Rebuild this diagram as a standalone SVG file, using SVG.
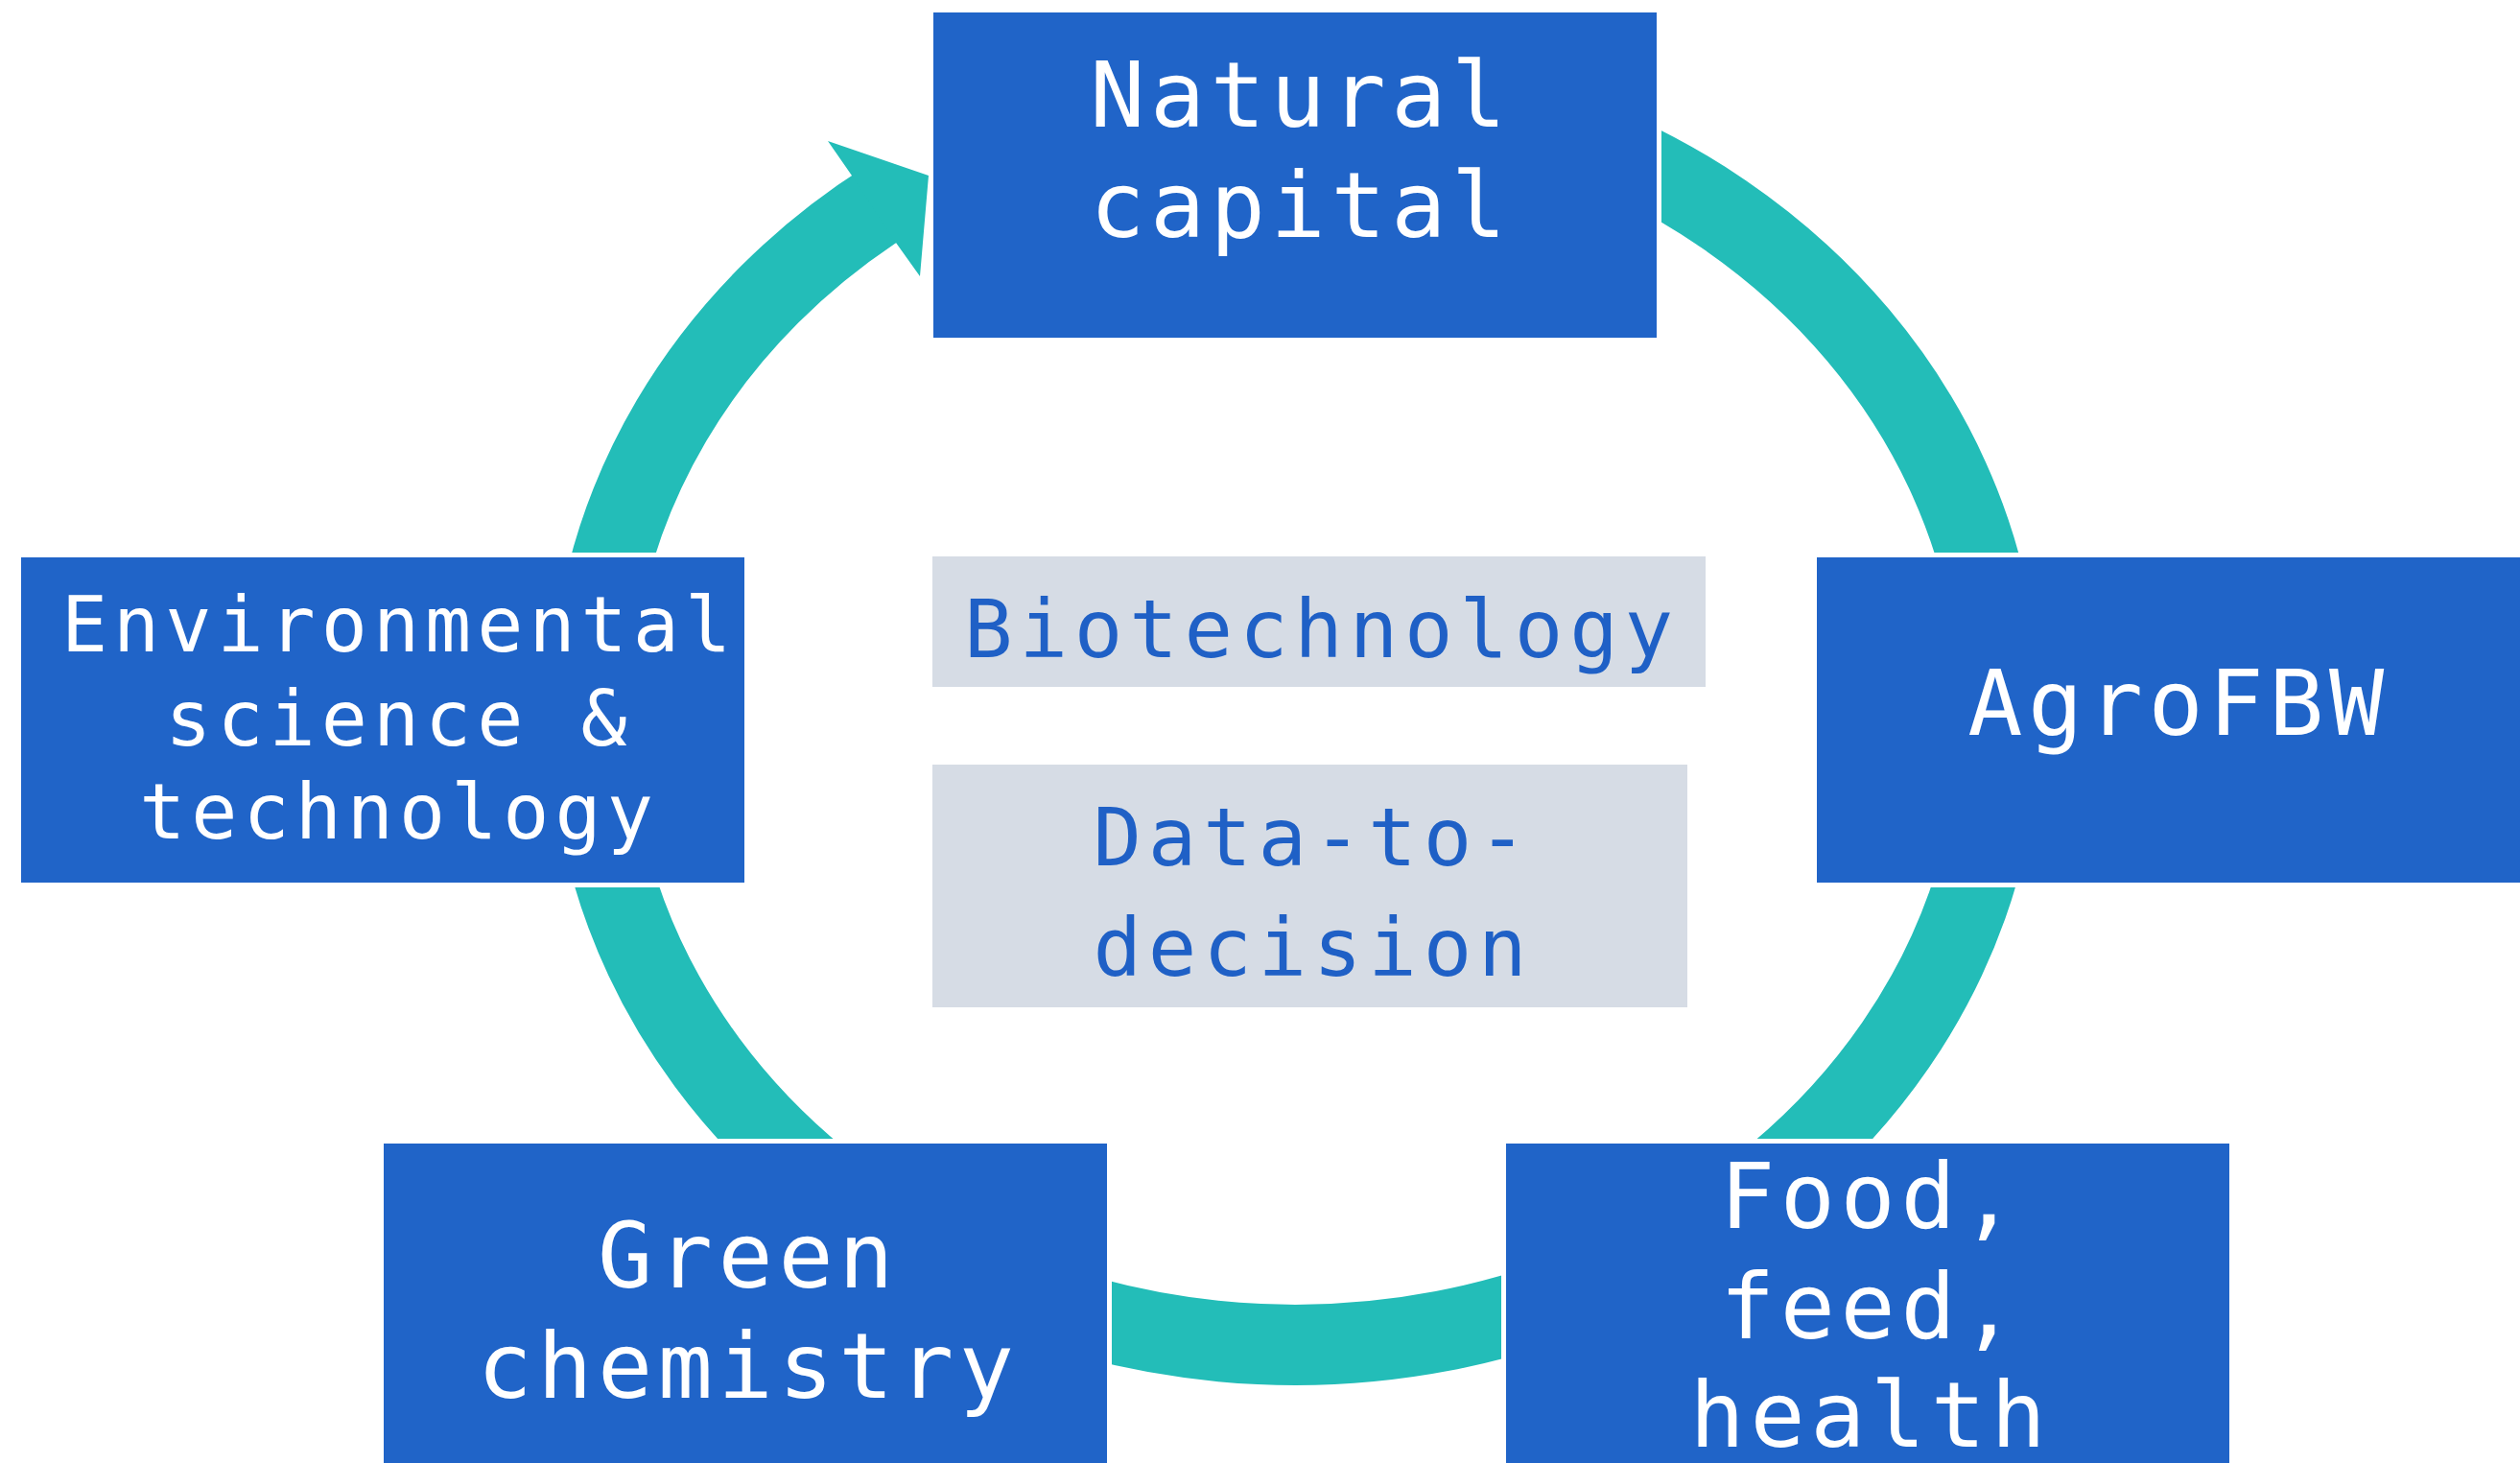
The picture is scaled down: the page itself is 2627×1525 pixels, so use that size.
<svg xmlns="http://www.w3.org/2000/svg" width="2627" height="1525" viewBox="0 0 2627 1525">
<style>
.box{fill:#2064C8;stroke:#FFFFFF;stroke-width:5}
.sub{fill:#D6DCE5}
.t{font-family:"DejaVu Sans Mono","Liberation Mono",monospace;text-anchor:middle}
.big{font-size:95px;letter-spacing:5.6px;fill:#FFFFFF}
.mid{font-size:80px;letter-spacing:6px;fill:#FFFFFF}
.blue{font-size:84px;letter-spacing:6.8px;fill:#1F60C6}
.ring{fill:none;stroke:#23BDB8;stroke-width:84}
</style>
<rect width="2627" height="1525" fill="#FFFFFF"/>
<g id="connectors">
<path class="ring" d="M 1098.6 127.6 A 735 657 0 1 1 924.2 209.5"/>
<polygon fill="#23BDB8" points="863,147 968,183 959,288 934,253 888,183"/>
</g>
<g id="node-natural-capital">
<rect class="box" x="970.5" y="10.5" width="759" height="344"/>
<text class="t big" x="1356" y="132">Natural</text>
<text class="t big" x="1356" y="247">capital</text>
</g>
<g id="node-agrofbw">
<rect class="box" x="1891.5" y="578.5" width="759" height="344"/>
<text class="t big" x="2271" y="766">AgroFBW</text>
</g>
<g id="node-food">
<rect class="box" x="1567.5" y="1189.5" width="759" height="344"/>
<text class="t big" x="1950" y="1280">Food,</text>
<text class="t big" x="1950" y="1395">feed,</text>
<text class="t big" x="1950" y="1508">health</text>
</g>
<g id="node-green-chemistry">
<rect class="box" x="397.5" y="1189.5" width="759" height="344"/>
<text class="t big" x="780" y="1342">Green</text>
<text class="t big" x="780" y="1457">chemistry</text>
</g>
<g id="node-environmental">
<rect class="box" x="19.5" y="578.5" width="759" height="344"/>
<text class="t mid" x="416" y="679">Environmental</text>
<text class="t mid" x="416" y="777">science &amp;</text>
<text class="t mid" x="416" y="874">technology</text>
</g>
<g id="node-biotechnology">
<rect class="sub" x="972" y="580" width="806" height="136"/>
<text class="t blue" x="1378" y="685">Biotechnology</text>
</g>
<g id="node-data-to-decision">
<rect class="sub" x="972" y="797" width="787" height="253"/>
<text class="t blue" x="1369" y="902">Data-to-</text>
<text class="t blue" x="1369" y="1017">decision</text>
</g>
</svg>
